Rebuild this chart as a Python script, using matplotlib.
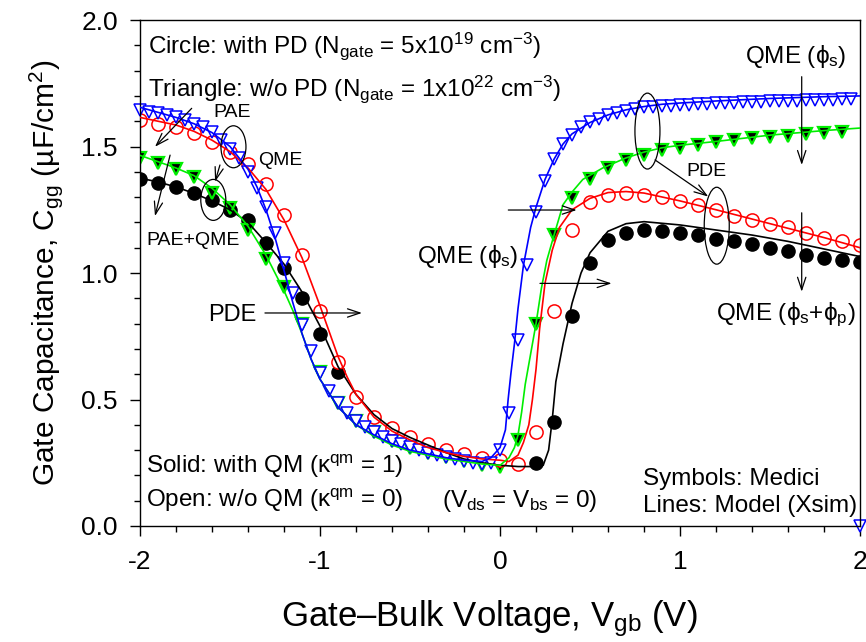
import matplotlib
matplotlib.use("Agg")
import matplotlib.pyplot as plt
from matplotlib.patches import Ellipse
from matplotlib.ticker import MultipleLocator

plt.rcParams['font.family'] = ['Liberation Sans', 'DejaVu Sans']
plt.rcParams['mathtext.fontset'] = 'custom'
plt.rcParams['mathtext.rm'] = 'Liberation Sans'
plt.rcParams['mathtext.it'] = 'Liberation Sans'
plt.rcParams['mathtext.sf'] = 'Liberation Sans'
plt.rcParams['axes.unicode_minus'] = False

# Medici symbols
# with PD, w/o QM (open circles)
red_x = [-2.0, -1.9, -1.8, -1.7, -1.6, -1.5, -1.4, -1.3, -1.2, -1.1, -1.0, -0.9, -0.8, -0.7,
         -0.6, -0.5, -0.4, -0.3, -0.2, -0.1, 0.0, 0.1, 0.2, 0.3, 0.4, 0.5, 0.6, 0.7, 0.8, 0.9,
         1.0, 1.1, 1.2, 1.3, 1.4, 1.5, 1.6, 1.7, 1.8, 1.9, 2.0]
red_y = [1.605, 1.59, 1.577, 1.553, 1.518, 1.478, 1.43, 1.35, 1.23, 1.07, 0.85, 0.65, 0.51, 0.43,
         0.386, 0.35, 0.325, 0.30, 0.285, 0.27, 0.26, 0.245, 0.37, 0.85, 1.17, 1.28, 1.31, 1.316,
         1.31, 1.30, 1.285, 1.27, 1.25, 1.225, 1.21, 1.195, 1.18, 1.16, 1.14, 1.125, 1.11]

# with PD, with QM (solid circles)
blk_x = [-2.0, -1.9, -1.8, -1.7, -1.6, -1.5, -1.4, -1.3, -1.2, -1.1, -1.0, -0.9,
         0.2, 0.3, 0.4, 0.5, 0.6, 0.7, 0.8, 0.9, 1.0, 1.1, 1.2, 1.3, 1.4, 1.5, 1.6, 1.7,
         1.8, 1.9, 2.0]
blk_y = [1.37, 1.356, 1.34, 1.316, 1.29, 1.25, 1.21, 1.12, 1.02, 0.90, 0.76, 0.61,
         0.25, 0.41, 0.83, 1.04, 1.13, 1.16, 1.17, 1.165, 1.16, 1.15, 1.135, 1.125, 1.115,
         1.10, 1.087, 1.07, 1.06, 1.05, 1.045]

# w/o PD, with QM (solid triangles)
grn_x = [-2.0, -1.9, -1.8, -1.7, -1.6, -1.5, -1.4, -1.3, -1.2, -1.1, -1.0, -0.9, -0.8, -0.7,
         -0.6, -0.5, -0.4, -0.3, -0.2, -0.1, 0.0, 0.1, 0.2, 0.3, 0.4, 0.5, 0.6, 0.7, 0.8, 0.9,
         1.0, 1.1, 1.2, 1.3, 1.4, 1.5, 1.6, 1.7, 1.8, 1.9]
grn_y = [1.455, 1.435, 1.41, 1.38, 1.316, 1.257, 1.17, 1.055, 0.945, 0.80, 0.61, 0.485, 0.415,
         0.37, 0.335, 0.31, 0.29, 0.273, 0.257, 0.24, 0.235, 0.34, 0.80, 1.15, 1.295, 1.37,
         1.415, 1.445, 1.468, 1.486, 1.494, 1.506, 1.518, 1.526, 1.534, 1.538, 1.542, 1.55,
         1.553, 1.557]

# w/o PD, w/o QM (open triangles)
blu_x = [-2.0, -1.95, -1.9, -1.85, -1.8, -1.75, -1.7, -1.65, -1.6, -1.55, -1.5, -1.45, -1.4,
         -1.35, -1.3, -1.25, -1.2, -1.15, -1.1, -1.05, -1.0, -0.95, -0.9, -0.85, -0.8, -0.75,
         -0.7, -0.65, -0.6, -0.55, -0.5, -0.45, -0.4, -0.35, -0.3, -0.25, -0.2, -0.15, -0.1,
         -0.05, 0.0, 0.05, 0.1, 0.15, 0.2, 0.25, 0.3, 0.35, 0.4, 0.45, 0.5, 0.55, 0.6, 0.65,
         0.7, 0.75, 0.8, 0.85, 0.9, 0.95, 1.0, 1.05, 1.1, 1.15, 1.2, 1.25, 1.3, 1.35, 1.4,
         1.45, 1.5, 1.55, 1.6, 1.65, 1.7, 1.75, 1.8, 1.85, 1.9, 1.95, 2.0]
blu_y = [1.645, 1.637, 1.632, 1.624, 1.617, 1.605, 1.59, 1.577, 1.557, 1.526, 1.49, 1.455, 1.40,
         1.336, 1.26, 1.158, 1.04, 0.92, 0.795, 0.69, 0.605, 0.535, 0.485, 0.445, 0.415, 0.39,
         0.37, 0.35, 0.336, 0.323, 0.311, 0.30, 0.289, 0.28, 0.273, 0.265, 0.257, 0.25, 0.245,
         0.25, 0.30, 0.447, 0.735, 1.03, 1.24, 1.365, 1.45, 1.51, 1.545, 1.577, 1.597, 1.61,
         1.625, 1.633, 1.64, 1.65, 1.656, 1.658, 1.66, 1.662, 1.664, 1.666, 1.668, 1.67, 1.671,
         1.672, 1.674, 1.675, 1.676, 1.677, 1.678, 1.679, 1.68, 1.681, 1.682, 1.683, 1.684,
         1.685, 1.686, 1.687, 0.0]

# Xsim model lines
mred_x = [-2.0, -1.9, -1.8, -1.7, -1.6, -1.5, -1.4, -1.3, -1.2, -1.1, -1.0, -0.95, -0.9, -0.85,
          -0.8, -0.7, -0.6, -0.5, -0.4, -0.3, -0.2, -0.1, 0.0, 0.05, 0.1, 0.13, 0.16, 0.18, 0.2,
          0.22, 0.25, 0.29, 0.33, 0.4, 0.5, 0.6, 0.7, 0.8, 1.0, 1.2, 1.5, 1.8, 2.0]
mred_y = [1.615, 1.60, 1.585, 1.56, 1.525, 1.48, 1.415, 1.33, 1.21, 1.06, 0.87, 0.77, 0.67, 0.59,
          0.52, 0.43, 0.375, 0.34, 0.31, 0.29, 0.275, 0.265, 0.26, 0.255, 0.28, 0.33, 0.40, 0.50,
          0.62, 0.78, 0.96, 1.09, 1.18, 1.25, 1.295, 1.318, 1.322, 1.316, 1.285, 1.25, 1.195,
          1.14, 1.10]

mblk_x = [-2.0, -1.9, -1.8, -1.7, -1.6, -1.5, -1.4, -1.3, -1.2, -1.1, -1.0, -0.9, -0.8, -0.7,
          -0.6, -0.5, -0.4, -0.3, -0.2, -0.1, 0.0, 0.1, 0.2, 0.24, 0.27, 0.29, 0.31, 0.35, 0.4,
          0.45, 0.5, 0.6, 0.7, 0.8, 1.0, 1.2, 1.4, 1.6, 1.8, 2.0]
mblk_y = [1.375, 1.36, 1.34, 1.315, 1.285, 1.25, 1.20, 1.12, 1.035, 0.925, 0.79, 0.63, 0.52, 0.44,
          0.385, 0.35, 0.32, 0.29, 0.265, 0.25, 0.24, 0.235, 0.235, 0.24, 0.30, 0.42, 0.57, 0.72,
          0.88, 1.0, 1.08, 1.165, 1.195, 1.203, 1.19, 1.17, 1.15, 1.125, 1.095, 1.065]

mgrn_x = [-2.0, -1.9, -1.8, -1.7, -1.6, -1.5, -1.4, -1.3, -1.2, -1.15, -1.1, -1.05, -1.0, -0.9,
          -0.8, -0.7, -0.6, -0.5, -0.4, -0.3, -0.2, -0.1, 0.0, 0.05, 0.08, 0.1, 0.12, 0.14, 0.17,
          0.2, 0.23, 0.26, 0.3, 0.35, 0.4, 0.46, 0.57, 0.7, 0.8, 0.9, 1.0, 1.2, 1.5, 1.8, 2.0]
mgrn_y = [1.465, 1.44, 1.415, 1.385, 1.335, 1.27, 1.185, 1.07, 0.93, 0.85, 0.76, 0.66, 0.58, 0.47,
          0.40, 0.355, 0.32, 0.295, 0.28, 0.265, 0.255, 0.245, 0.24, 0.27, 0.31, 0.36, 0.45, 0.56,
          0.68, 0.80, 0.94, 1.05, 1.15, 1.27, 1.32, 1.37, 1.415, 1.455, 1.478, 1.495, 1.505,
          1.52, 1.545, 1.563, 1.573]

mblu_x = [-2.0, -1.9, -1.8, -1.7, -1.6, -1.5, -1.4, -1.35, -1.3, -1.25, -1.2, -1.15, -1.1, -1.05,
          -1.0, -0.9, -0.8, -0.7, -0.6, -0.5, -0.4, -0.3, -0.2, -0.1, -0.05, 0.0, 0.03, 0.045,
          0.06, 0.08, 0.1, 0.13, 0.17, 0.2, 0.25, 0.3, 0.35, 0.4, 0.5, 0.6, 0.7, 0.8, 0.9, 1.0,
          1.2, 1.5, 1.8, 2.0]
mblu_y = [1.655, 1.635, 1.615, 1.59, 1.555, 1.50, 1.41, 1.34, 1.25, 1.14, 1.01, 0.88, 0.76, 0.66,
          0.58, 0.47, 0.40, 0.36, 0.325, 0.30, 0.285, 0.27, 0.26, 0.255, 0.27, 0.31, 0.38, 0.50,
          0.60, 0.72, 0.86, 1.03, 1.18, 1.26, 1.37, 1.45, 1.51, 1.55, 1.595, 1.625, 1.645, 1.658,
          1.667, 1.672, 1.68, 1.69, 1.697, 1.70]

fig = plt.figure(figsize=(8.66, 6.42), dpi=100)
ax = fig.add_axes([0.1617, 0.1807, 0.8314, 0.7881])

ms_c = 9.5
ms_t = 9.0
ax.plot(blk_x, blk_y, 'o', ms=ms_c, mfc='black', mec='black', zorder=2)
ax.plot(grn_x, grn_y, 'v', ms=ms_t, mfc='black', mec='#00ee00', mew=1.6, zorder=2.1)
ax.plot(red_x, red_y, 'o', ms=ms_c, mfc='white', mec='red', mew=1.1, zorder=2.2)
ax.plot(blu_x, blu_y, 'v', ms=ms_t, mfc='white', mec='blue', mew=1.1, zorder=2.3, clip_on=False)

ax.plot(mblk_x, mblk_y, '-', color='black', lw=1.2, zorder=3)
ax.plot(mred_x, mred_y, '-', color='red', lw=1.2, zorder=3)
ax.plot(mgrn_x, mgrn_y, '-', color='#00ee00', lw=1.2, zorder=3)
ax.plot(mblu_x, mblu_y, '-', color='blue', lw=1.2, zorder=3)

ax.set_xlim(-2, 2)
ax.set_ylim(0, 2)
ax.xaxis.set_major_locator(MultipleLocator(1))
ax.xaxis.set_minor_locator(MultipleLocator(0.2))
ax.yaxis.set_major_locator(MultipleLocator(0.5))
ax.yaxis.set_minor_locator(MultipleLocator(0.1))
ax.xaxis.set_major_formatter(plt.FuncFormatter(lambda v, p: '%d' % round(v)))
ax.yaxis.set_major_formatter(plt.FuncFormatter(lambda v, p: '%.1f' % v))
ax.tick_params(which='both', direction='out', top=False, right=False, width=1)
ax.tick_params(which='major', length=7, labelsize=19)
ax.tick_params(axis='y', which='major', pad=9)
ax.tick_params(axis='x', which='major', pad=10)
ax.tick_params(which='minor', length=4)
for s in ax.spines.values():
    s.set_linewidth(1.0)

ax.set_xlabel('Gate\u2013Bulk Voltage, V$_\\mathregular{gb}$ (V)', fontsize=25, labelpad=18)
ax.xaxis.label.set_x(0.485)
ax.set_ylabel('Gate Capacitance, C$_\\mathregular{gg}$ (\u00b5F/cm$^\\mathregular{2}$)',
              fontsize=21.5, labelpad=12)

big = 17.5
small = 14
ax.text(-1.955, 1.87, 'Circle: with PD (N$_\\mathregular{gate}$ = 5x10$^\\mathregular{19}$ cm$^\\mathregular{-3}$)', fontsize=big)
ax.text(-1.955, 1.70, 'Triangle: w/o PD (N$_\\mathregular{gate}$ = 1x10$^\\mathregular{22}$ cm$^\\mathregular{-3}$)', fontsize=big)
ax.text(-1.967, 0.21, 'Solid: with QM (\u03ba$^\\mathregular{qm}$ = 1)', fontsize=big)
ax.text(-1.967, 0.075, 'Open: w/o QM (\u03ba$^\\mathregular{qm}$ = 0)', fontsize=big)
ax.text(-0.32, 0.075, '(V$_\\mathregular{ds}$ = V$_\\mathregular{bs}$ = 0)', fontsize=big)
ax.text(0.794, 0.162, 'Symbols: Medici', fontsize=big)
ax.text(0.794, 0.055, 'Lines: Model (Xsim)', fontsize=big)

ax.text(-1.49, 1.617, 'PAE', fontsize=small, ha='center')
ax.text(-1.22, 1.427, 'QME', fontsize=small, ha='center')
ax.text(-1.705, 1.11, 'PAE+QME', fontsize=small, ha='center')
ax.text(1.145, 1.383, 'PDE', fontsize=small, ha='center')
ax.text(-1.49, 0.81, 'PDE', fontsize=17, ha='center')
ax.text(-0.18, 1.04, 'QME (\u03d5$_\\mathregular{s}$)', fontsize=big, ha='center')
ax.text(1.645, 1.83, 'QME (\u03d5$_\\mathregular{s}$)', fontsize=big, ha='center')
ax.text(1.587, 0.814, 'QME (\u03d5$_\\mathregular{s}$+\u03d5$_\\mathregular{p}$)', fontsize=big, ha='center')

for cx, cy, h in [(-1.481, 1.499, 0.166), (-1.593, 1.289, 0.162),
                  (0.819, 1.561, 0.30), (1.204, 1.187, 0.304)]:
    ax.add_patch(Ellipse((cx, cy), 0.139, h, fill=False, ec='black', lw=0.9, zorder=4))

arrows = [((-1.713, 1.651), (-1.917, 1.499)),
          ((-1.833, 1.466), (-1.917, 1.225)),
          ((-1.556, 1.427), (-1.583, 1.361)),
          ((-1.306, 0.842), (-0.767, 0.842)),
          ((0.046, 1.249), (0.426, 1.249)),
          ((0.222, 0.959), (0.62, 0.959)),
          ((0.861, 1.447), (1.157, 1.302)),
          ((1.676, 1.776), (1.676, 1.427)),
          ((1.676, 1.238), (1.676, 0.926))]
for start, end in arrows:
    ax.annotate('', xy=end, xytext=start,
                arrowprops=dict(arrowstyle='->,head_length=0.9,head_width=0.3', color='black',
                                lw=0.9, shrinkA=0, shrinkB=0), zorder=4)

fig.savefig('out.png', dpi=100)
